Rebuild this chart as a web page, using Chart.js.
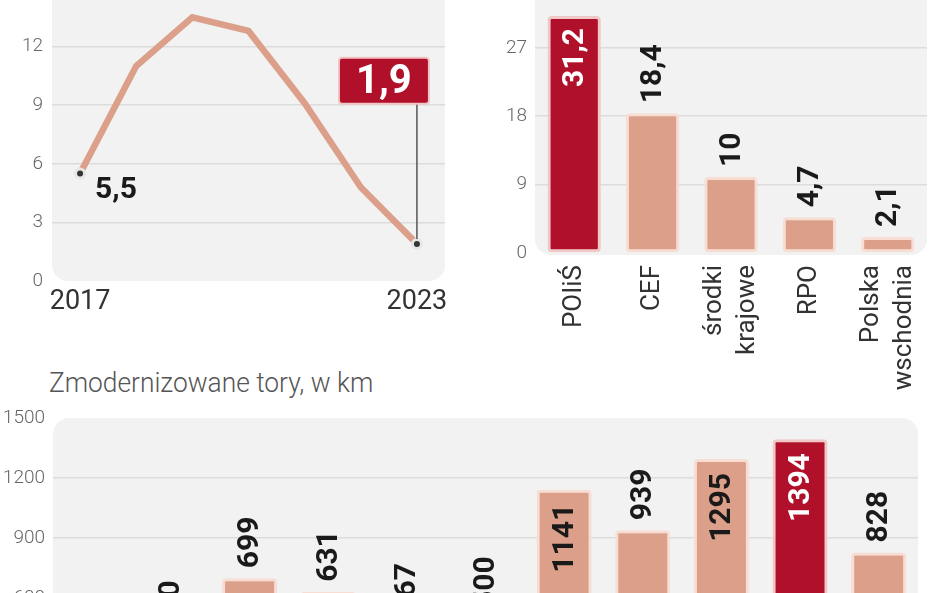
<!DOCTYPE html>
<html>
<head>
<meta charset="utf-8">
<script src="https://cdn.jsdelivr.net/npm/chart.js@4.4.1/dist/chart.umd.min.js"></script>
<style>
  html, body { margin: 0; padding: 0; background: #fff; }
  body { position: relative; width: 948px; height: 593px; overflow: hidden; }
  canvas { position: absolute; }
  #shareChart { left: 0; top: 0; }
  #fundChart { left: 480px; top: 0; }
  #trackChart { left: 0; top: 360px; }
  #trackTitle {
    position: absolute; left: 49px; top: 366px; white-space: nowrap;
    font: 300 28px Roboto, sans-serif; color: #555;
    transform: scaleX(0.94); transform-origin: left top;
  }
</style>
</head>
<body>
<canvas id="shareChart" width="460" height="316"></canvas>
<canvas id="fundChart" width="468" height="400"></canvas>
<div id="trackTitle">Zmodernizowane tory, w km</div>
<canvas id="trackChart" width="948" height="400"></canvas>
<script>
// wykres liniowy 2017-2023
const years = ['2017', '2018', '2019', '2020', '2021', '2022', '2023'];
const shareValues = [5.5, 11.0, 13.5, 12.8, 9.1, 4.8, 1.9];
const shareTicks = [0, 3, 6, 9, 12];

// źródła finansowania
const fundSources = ['POIiŚ', 'CEF', ['środki', 'krajowe'], 'RPO', ['Polska', 'wschodnia']];
const fundValues = [31.2, 18.4, 10, 4.7, 2.1];
const fundTicks = [0, 9, 18, 27];

// zmodernizowane tory, w km
const trackYears = ['2013', '2014', '2015', '2016', '2017', '2018', '2019', '2020', '2021', '2022', '2023'];
const trackKm = [300, 380, 699, 631, 467, 500, 1141, 939, 1295, 1394, 828];
const trackTicks = [0, 300, 600, 900, 1200, 1500];

const SALMON = '#dca08a';
const DARK = '#b0102a';
const EDGE = '#f7ddd2';
const PANEL = '#f2f2f2';
const GRID = '#dcdcdc';
const TICK_FONT = { family: 'Roboto, sans-serif', size: 19, weight: '300' };

const fmt = v => String(v).replace('.', ',');

// szare tło obszaru wykresu z zaokrąglonymi rogami
const panel = {
  id: 'panel',
  beforeDraw(chart, args, opts) {
    const { ctx, chartArea: a } = chart;
    ctx.save();
    ctx.fillStyle = PANEL;
    ctx.beginPath();
    ctx.roundRect(a.left, a.top - (opts.extendTop || 0), a.right - a.left,
      a.bottom - a.top + (opts.extendTop || 0) + (opts.extendBottom || 0), opts.radii);
    ctx.fill();
    ctx.restore();
  }
};

// obrócone etykiety wartości nad słupkami (albo w środku, jeśli się nie mieszczą)
const barLabels = {
  id: 'barLabels',
  afterDatasetsDraw(chart, args, opts) {
    const { ctx, chartArea } = chart;
    const meta = chart.getDatasetMeta(0);
    const data = chart.data.datasets[0].data;
    ctx.save();
    ctx.font = `bold ${opts.size}px Roboto, sans-serif`;
    meta.data.forEach((bar, i) => {
      const text = fmt(data[i]);
      const w = ctx.measureText(text).width;
      const inside = bar.y - opts.gap - w < chartArea.top;
      ctx.save();
      ctx.translate(bar.x + 1, inside ? bar.y + opts.inset : bar.y - opts.gap);
      ctx.rotate(-Math.PI / 2);
      ctx.textAlign = inside ? 'right' : 'left';
      ctx.textBaseline = 'middle';
      ctx.fillStyle = inside && i === opts.highlight ? '#fff' : '#1a1a1a';
      ctx.fillText(text, 0, 0);
      ctx.restore();
    });
    ctx.restore();
  }
};

// pionowe podpisy kategorii, wiersze wyśrodkowane na słupku
const catLabels = {
  id: 'catLabels',
  afterDraw(chart, args, opts) {
    const { ctx } = chart;
    const x = chart.scales.x;
    ctx.save();
    ctx.font = `${opts.size}px Roboto, sans-serif`;
    ctx.fillStyle = '#333';
    ctx.textAlign = 'right';
    ctx.textBaseline = 'middle';
    chart.data.labels.forEach((label, i) => {
      const lines = [].concat(label);
      const cx = x.getPixelForValue(i);
      lines.forEach((line, j) => {
        ctx.save();
        ctx.translate(cx + (j - (lines.length - 1) / 2) * opts.lineHeight, x.top + opts.pad);
        ctx.rotate(-Math.PI / 2);
        ctx.fillText(line, 0, 0);
        ctx.restore();
      });
    });
    ctx.restore();
  }
};

// podpisy pierwszego i ostatniego punktu linii
const callouts = {
  id: 'callouts',
  afterDatasetsDraw(chart) {
    const { ctx } = chart;
    const y = chart.scales.y;
    const pts = chart.getDatasetMeta(0).data;
    const first = pts[0], last = pts[pts.length - 1];
    ctx.save();
    ctx.font = 'bold 30px Roboto, sans-serif';
    ctx.fillStyle = '#1a1a1a';
    ctx.textAlign = 'left';
    ctx.textBaseline = 'middle';
    ctx.fillText(fmt(shareValues[0]), first.x + 15, first.y + 17);

    const boxH = 46, boxW = 90;
    const boxTop = y.getPixelForValue(10.25) - boxH / 2;
    const boxLeft = last.x + 12 - boxW;
    ctx.strokeStyle = '#555';
    ctx.lineWidth = 1.5;
    ctx.beginPath();
    ctx.moveTo(last.x, boxTop + boxH);
    ctx.lineTo(last.x, last.y - 5);
    ctx.stroke();
    ctx.fillStyle = DARK;
    ctx.strokeStyle = '#f2c4c4';
    ctx.lineWidth = 2;
    ctx.beginPath();
    ctx.roundRect(boxLeft, boxTop, boxW, boxH, 3);
    ctx.fill();
    ctx.stroke();
    ctx.fillStyle = '#fff';
    ctx.font = 'bold 40px Roboto, sans-serif';
    ctx.textAlign = 'center';
    ctx.fillText(fmt(shareValues[shareValues.length - 1]), boxLeft + boxW / 2, boxTop + boxH / 2 + 2);
    ctx.restore();
  }
};

function gridColor(c) {
  if (!c.tick) return GRID;
  return (c.tick.value === 0 || c.tick.value === c.scale.max) ? 'rgba(0,0,0,0)' : GRID;
}

function yAxis(ticks, max, width, pad) {
  return {
    min: 0, max: max,
    afterBuildTicks: s => { s.ticks = ticks.map(v => ({ value: v })); },
    afterFit: s => { s.width = width; s.paddingTop = 0; s.paddingBottom = 0; },
    border: { display: false },
    grid: { color: gridColor, lineWidth: 1.5, drawTicks: false },
    ticks: { font: TICK_FONT, color: '#666', padding: pad, callback: v => String(v) }
  };
}

function xFit(height) {
  return s => { s.height = height; s.paddingLeft = 0; s.paddingRight = 0; };
}

const common = {
  responsive: false,
  animation: false,
  events: []
};

new Chart(document.getElementById('shareChart'), {
  type: 'line',
  data: {
    labels: years,
    datasets: [{
      data: shareValues,
      borderColor: SALMON,
      borderWidth: 6.5,
      tension: 0,
      pointRadius: c => (c.dataIndex === 0 || c.dataIndex === shareValues.length - 1) ? 4.5 : 0,
      pointBackgroundColor: '#333',
      pointBorderColor: '#e6e6e6',
      pointBorderWidth: 3
    }]
  },
  options: {
    ...common,
    layout: { padding: { left: 0, right: 15, top: 0, bottom: 0 } },
    plugins: {
      legend: { display: false },
      tooltip: { enabled: false },
      panel: { radii: [0, 0, 16, 16], extendTop: 10 }
    },
    scales: {
      x: {
        offset: true,
        afterFit: xFit(35),
        border: { display: false },
        grid: { display: false },
        ticks: {
          autoSkip: false, maxRotation: 0, padding: -3,
          font: { family: 'Roboto, sans-serif', size: 27 }, color: '#333',
          callback: (v, i) => (i === 0 || i === years.length - 1) ? years[i] : ''
        }
      },
      y: yAxis(shareTicks, 14, 52, 9)
    }
  },
  plugins: [panel, callouts]
});

new Chart(document.getElementById('fundChart'), {
  type: 'bar',
  data: {
    labels: fundSources,
    datasets: [{
      data: fundValues,
      backgroundColor: fundValues.map((v, i) => i === 0 ? DARK : SALMON),
      borderColor: fundValues.map((v, i) => i === 0 ? '#f0c8c8' : EDGE),
      borderWidth: 3,
      borderRadius: 4,
      borderSkipped: false,
      barPercentage: 0.68,
      categoryPercentage: 1
    }]
  },
  options: {
    ...common,
    layout: { padding: { left: 0, right: 21, top: 0, bottom: 0 } },
    plugins: {
      legend: { display: false },
      tooltip: { enabled: false },
      panel: { radii: [0, 0, 16, 16], extendTop: 10, extendBottom: 2 },
      barLabels: { size: 30, gap: 10, inset: 12, highlight: 0 },
      catLabels: { size: 26, lineHeight: 33, pad: 12 }
    },
    scales: {
      x: {
        afterFit: xFit(147),
        border: { display: false },
        grid: { display: false },
        ticks: { display: false }
      },
      y: yAxis(fundTicks, 33.3, 55, 8)
    }
  },
  plugins: [panel, barLabels, catLabels]
});

new Chart(document.getElementById('trackChart'), {
  type: 'bar',
  data: {
    labels: trackYears,
    datasets: [{
      data: trackKm,
      backgroundColor: trackKm.map((v, i) => i === 9 ? DARK : SALMON),
      borderColor: trackKm.map((v, i) => i === 9 ? '#f0c8c8' : EDGE),
      borderWidth: 3,
      borderRadius: 4,
      borderSkipped: false,
      barPercentage: 0.7,
      categoryPercentage: 1
    }]
  },
  options: {
    ...common,
    layout: { padding: { left: 0, right: 30, top: 58, bottom: 0 } },
    plugins: {
      legend: { display: false },
      tooltip: { enabled: false },
      panel: { radii: [16, 16, 0, 0] },
      barLabels: { size: 30, gap: 10, inset: 14, highlight: 9 }
    },
    scales: {
      x: {
        afterFit: xFit(42),
        border: { display: false },
        grid: { display: false },
        ticks: { font: { family: 'Roboto, sans-serif', size: 24 }, color: '#333' }
      },
      y: yAxis(trackTicks, 1500, 53, 8)
    }
  },
  plugins: [panel, barLabels]
});
</script>
</body>
</html>
